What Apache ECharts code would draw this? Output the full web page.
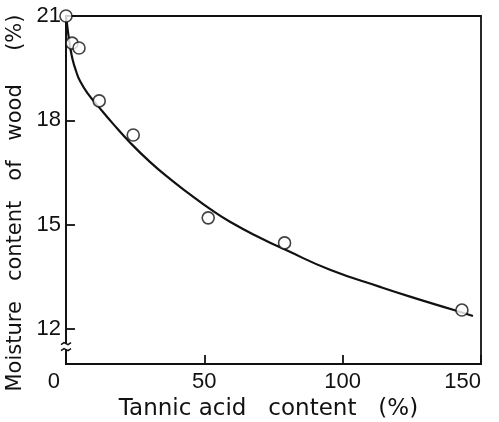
<!DOCTYPE html>
<html>
<head>
<meta charset="utf-8">
<script src="https://cdn.jsdelivr.net/npm/echarts@6/dist/echarts.min.js"></script>
<style>
html,body{margin:0;padding:0;background:#fff;}
#chart{width:499px;height:422px;}
</style>
</head>
<body>
<div id="chart"></div>
<script>
// Measured points
const tannic = [0, 2.2, 4.7, 12, 24.3, 51.4, 79, 143.1];
const moisture = [21, 20.22, 20.08, 18.56, 17.58, 15.2, 14.48, 12.55];
// Fitted curve
const curveX = [0, 0.36, 0.91, 1.45, 2.36, 3.62, 5.07, 7.97, 11.59, 17.03, 23.19, 30.43, 37.68, 44.93, 52.17, 59.42, 70.29, 79.35, 95.65, 113.77, 124.64, 140.22, 147.1];
const curveY = [21, 20.77, 20.43, 20.14, 19.76, 19.42, 19.13, 18.76, 18.41, 17.90, 17.36, 16.80, 16.31, 15.87, 15.45, 15.08, 14.62, 14.28, 13.70, 13.21, 12.93, 12.55, 12.38];
// Tick labels
const xTicks = [0, 50, 100, 150];
const yTicks = [12, 15, 18, 21];
const xName = 'Tannic acid   content   (%)';
const yName = 'Moisture   content   of   wood     (%)';

const chart = echarts.init(document.getElementById('chart'), null, {renderer: 'canvas'});
const font = "'Liberation Sans', Arial, sans-serif";
const titleFont = "'DejaVu Sans', sans-serif";
const ink = '#111';

const option = {
  backgroundColor: '#fff',
  animation: false,
  grid: {left: 66, right: 18, top: 16, bottom: 58, show: true, borderColor: ink, borderWidth: 1.8,
    backgroundColor: 'transparent', containLabel: false, outerBoundsMode: 'none'},
  xAxis: {
    type: 'value', min: 0, max: 150, interval: 50,
    axisLine: {show: true, lineStyle: {color: ink, width: 1.8}},
    axisTick: {show: true, inside: true, length: 9, lineStyle: {color: ink, width: 1.8}},
    splitLine: {show: false},
    axisLabel: {color: ink, fontFamily: font, fontSize: 22, margin: 7, alignMinLabel: 'right', alignMaxLabel: 'right',
      customValues: xTicks,
      formatter: v => v === 0 ? '{z|0}' : String(v),
      rich: {z: {fontFamily: font, fontSize: 22, color: ink, padding: [0, 6, 8, 0]}}},
    name: xName, nameLocation: 'middle', nameGap: 27,
    nameTextStyle: {color: ink, fontFamily: titleFont, fontSize: 23, padding: [0, 10, 0, 0]}
  },
  yAxis: {
    type: 'value', min: 11, max: 21,
    axisLine: {show: true, lineStyle: {color: ink, width: 1.8}},
    axisTick: {show: true, inside: true, length: 9, lineStyle: {color: ink, width: 1.8}, customValues: yTicks},
    splitLine: {show: false},
    axisLabel: {color: ink, fontFamily: font, fontSize: 22, margin: 5, customValues: yTicks, formatter: v => String(v)},
    name: yName, nameLocation: 'middle', nameGap: 35,
    nameTextStyle: {color: ink, fontFamily: titleFont, fontSize: 21, padding: [0, 26, 0, 0]}
  },
  series: [
    {
      type: 'line', data: curveX.map((x, i) => [x, curveY[i]]), smooth: 0.5, showSymbol: false, clip: false,
      lineStyle: {color: ink, width: 2.2}
    },
    {
      type: 'scatter', data: tannic.map((x, i) => [x, moisture[i]]), symbol: 'circle', symbolSize: 12, clip: false,
      itemStyle: {color: '#fff', borderColor: ink, borderWidth: 1.6}, z: 5
    }
  ]
};
chart.setOption(option);

// axis break mark on the y axis between 0 and 12
const p = chart.convertToPixel({gridIndex: 0}, [0, 11.5]);
chart.setOption({
  graphic: [
    {type: 'rect', x: p[0] - 5, y: p[1] - 3, shape: {width: 10, height: 6}, style: {fill: '#fff'}, z: 100},
    {type: 'polyline', x: p[0], y: p[1] - 3, shape: {points: [[-5, 1], [-2, -1], [2, 1], [5, -1]]}, style: {stroke: ink, lineWidth: 1.5, fill: null}, z: 101},
    {type: 'polyline', x: p[0], y: p[1] + 3, shape: {points: [[-5, 1], [-2, -1], [2, 1], [5, -1]]}, style: {stroke: ink, lineWidth: 1.5, fill: null}, z: 101}
  ]
});
</script>
</body>
</html>
